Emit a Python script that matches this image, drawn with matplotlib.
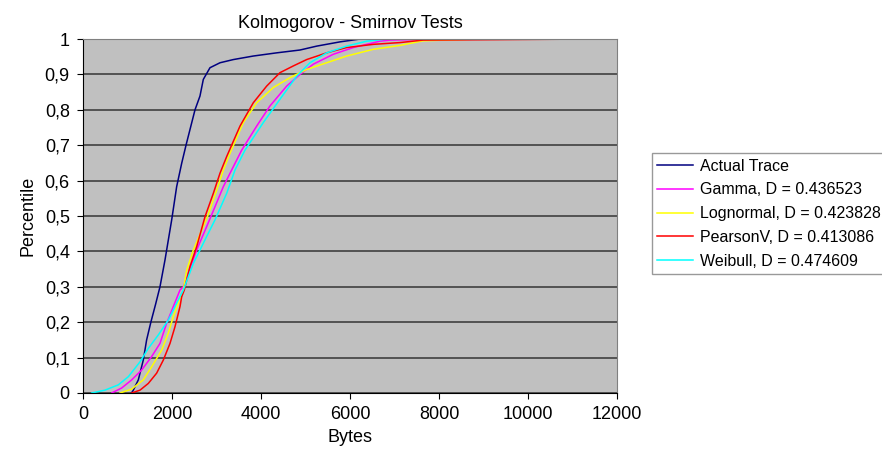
import numpy as np
import matplotlib.pyplot as plt

plt.rcParams['font.family'] = ['Liberation Sans', 'DejaVu Sans']

# empirical CDF of the trace and fitted distributions (bytes, percentile)
trace_x = [1090, 1131, 1243, 1355, 1430, 1525, 1630, 1730, 1843, 1993, 2105, 2218, 2315,
           2517, 2629, 2704, 2854, 3079, 3378, 3827, 4352, 4876, 5252, 5775, 6225, 9700]
trace_y = [0, 0.008, 0.037, 0.093, 0.15, 0.20, 0.25, 0.30, 0.376, 0.489, 0.583, 0.649, 0.70,
           0.80, 0.839, 0.886, 0.919, 0.933, 0.942, 0.952, 0.961, 0.969, 0.98, 0.992, 1.0, 1.0]

gamma_x = [645, 869, 1094, 1319, 1543, 1730, 1880, 2030, 2180, 2255, 2554, 2779, 2966, 3154,
           3341, 3566, 3903, 4202, 4577, 4876, 5176, 5625, 6075, 6674, 6900, 7950]
gamma_y = [0, 0.014, 0.037, 0.065, 0.103, 0.14, 0.197, 0.244, 0.291, 0.30, 0.404, 0.47, 0.526, 0.583,
           0.63, 0.686, 0.754, 0.811, 0.867, 0.90, 0.929, 0.957, 0.976, 0.994, 0.997, 1.0]

lognorm_x = [831, 1094, 1355, 1543, 1768, 1917, 2030, 2142, 2255, 2330, 2480, 2801, 3004, 3154,
             3303, 3603, 3903, 4277, 4652, 5026, 5476, 5925, 6524, 7124, 7640, 8850]
lognorm_y = [0, 0.011, 0.037, 0.074, 0.121, 0.169, 0.216, 0.253, 0.291, 0.347, 0.404, 0.50, 0.573, 0.63,
             0.677, 0.764, 0.82, 0.863, 0.891, 0.914, 0.933, 0.952, 0.971, 0.982, 0.995, 1.0]

pearson_x = [1094, 1281, 1468, 1655, 1805, 1955, 2067, 2180, 2218, 2277, 2404, 2554, 2742, 2929,
             3079, 3229, 3528, 3827, 4127, 4427, 4726, 5026, 5476, 5925, 6524, 7124, 7640, 11400]
pearson_y = [0, 0.008, 0.027, 0.056, 0.093, 0.14, 0.187, 0.244, 0.272, 0.291, 0.357, 0.413, 0.498, 0.564,
             0.621, 0.668, 0.754, 0.82, 0.867, 0.905, 0.924, 0.942, 0.961, 0.976, 0.985, 0.99, 0.997, 1.0]

weibull_x = [195, 494, 794, 1019, 1281, 1468, 1693, 1917, 2142, 2255, 2480, 2779, 2966, 3229,
             3416, 3640, 4052, 4427, 4802, 5101, 5476, 5925, 6375, 6824, 7270]
weibull_y = [0, 0.008, 0.023, 0.046, 0.088, 0.126, 0.164, 0.206, 0.263, 0.291, 0.366, 0.442, 0.489, 0.564,
             0.63, 0.686, 0.764, 0.83, 0.895, 0.933, 0.961, 0.98, 0.994, 1.0, 1.0]

fig = plt.figure(figsize=(8.82, 4.54), dpi=100)
ax = fig.add_axes([0.0941, 0.1344, 0.6054, 0.7796])
ax.set_facecolor('#c0c0c0')

ax.plot(trace_x, trace_y, c='#000080', lw=1.1, label='Actual Trace')
ax.plot(gamma_x, gamma_y, c='#ff00ff', lw=1.1, label='Gamma, D = 0.436523')
ax.plot(lognorm_x, lognorm_y, c='#ffff00', lw=1.1, label='Lognormal, D = 0.423828')
ax.plot(pearson_x, pearson_y, c='#ff0000', lw=1.1, label='PearsonV, D = 0.413086')
ax.plot(weibull_x, weibull_y, c='#00ffff', lw=1.1, label='Weibull, D = 0.474609')

ax.set_xlim(0, 12000)
ax.set_ylim(0, 1)
ax.set_xticks(np.arange(0, 12001, 2000))
yt = np.round(np.arange(0, 1.01, 0.1), 1)
ax.set_yticks(yt)
ax.set_yticklabels(['0', '0,1', '0,2', '0,3', '0,4', '0,5', '0,6', '0,7', '0,8', '0,9', '1'])
ax.yaxis.grid(True, color='#404040', lw=1.2)
ax.set_axisbelow(True)

for s in ['top', 'right']:
    ax.spines[s].set_color('#808080')
for s in ['left', 'bottom']:
    ax.spines[s].set_color('black')
ax.tick_params(direction='out', length=4.5, width=0.8, labelsize=13, pad=5)

ax.set_title('Kolmogorov - Smirnov Tests', fontsize=13, pad=8)
ax.set_xlabel('Bytes', fontsize=13, labelpad=4)
ax.set_ylabel('Percentile', fontsize=13, labelpad=6)

leg = fig.legend(loc='upper left', bbox_to_anchor=(0.739, 0.663), borderaxespad=0,
                 fontsize=11.5, frameon=True, fancybox=False, edgecolor='#808080',
                 handlelength=2.25, handletextpad=0.4, labelspacing=0.55, borderpad=0.35)
leg.get_frame().set_linewidth(1.0)

plt.savefig('out.png', dpi=100)
